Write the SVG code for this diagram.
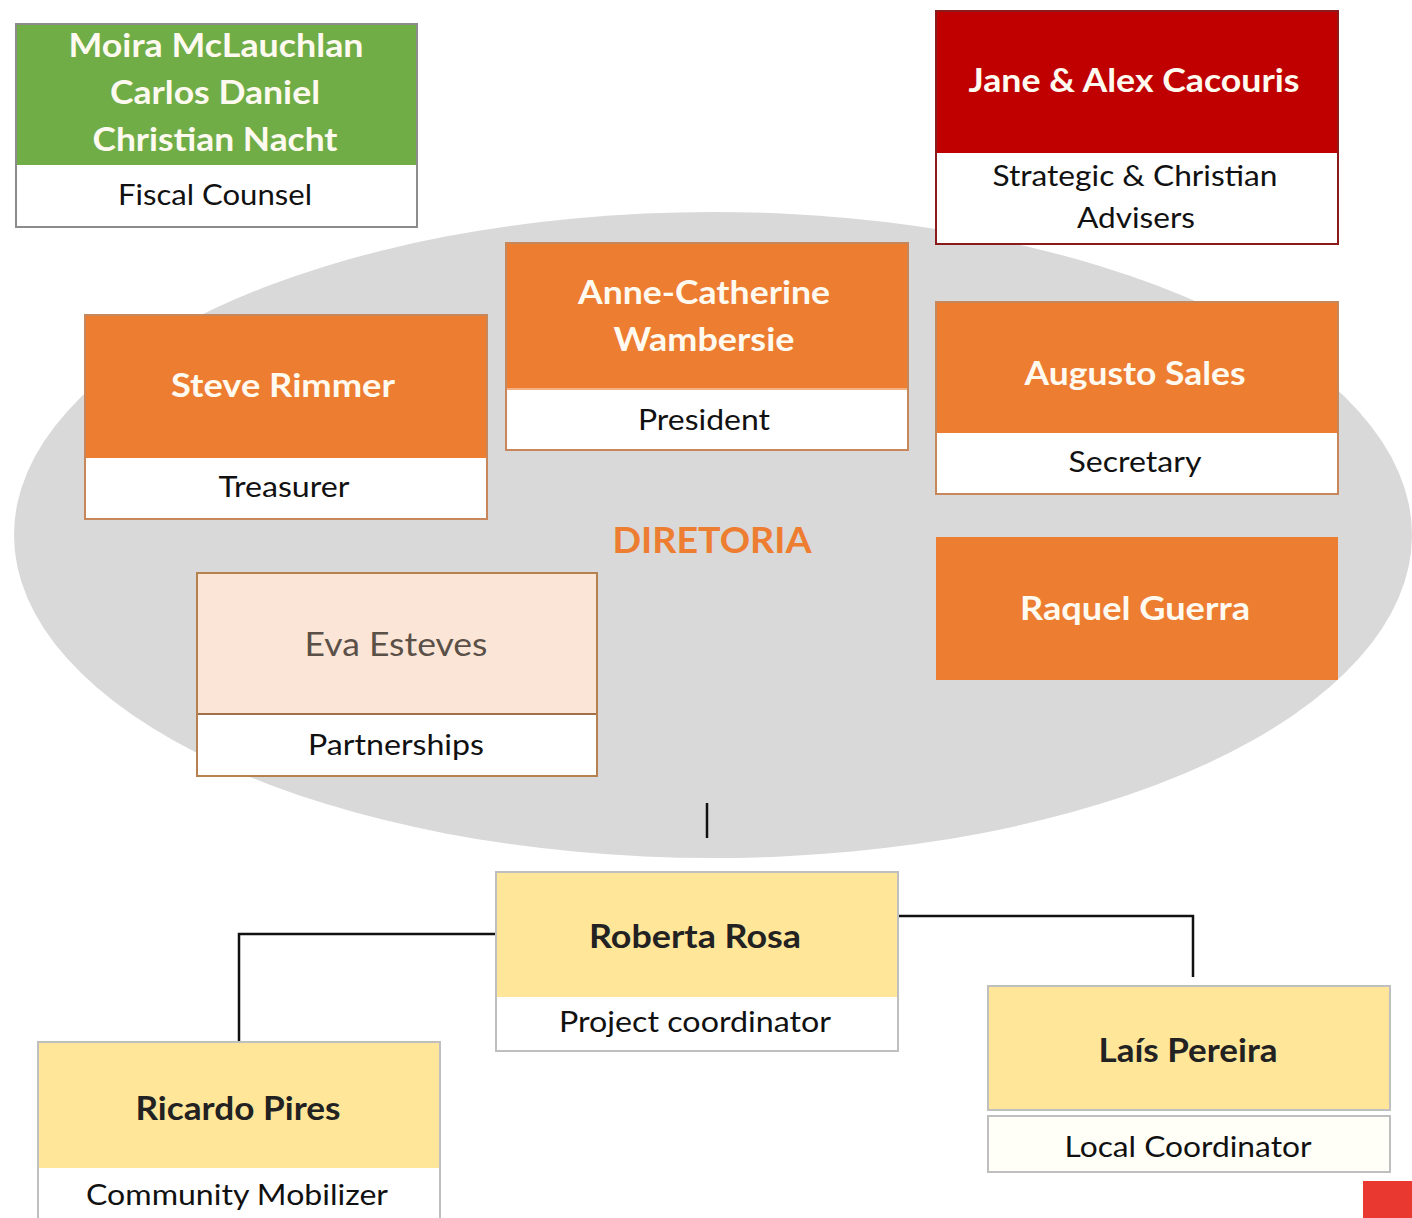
<svg xmlns="http://www.w3.org/2000/svg" width="1412" height="1218" viewBox="0 0 1412 1218">
<style>
text{font-family:Lato,"Open Sans","Liberation Sans",sans-serif;text-anchor:middle}
.nm{fill:#fffaf0;font-size:33px;font-weight:bold}
.nd{fill:#222;font-size:33px;font-weight:bold}
.tl{fill:#111;font-size:28px}
.hdr-o{fill:#ed7d31}
.hdr-y{fill:#ffe699}
.wh{fill:#ffffff}
.conn{fill:none;stroke:#111;stroke-width:2.5}
</style>
<rect width="1412" height="1218" fill="#ffffff"/>
<ellipse cx="713" cy="535" rx="699" ry="323" fill="#d9d9d9"/>
<text x="712" y="553" style="fill:#ed7d31;font-size:36px;font-weight:bold" textLength="199" lengthAdjust="spacingAndGlyphs">DIRETORIA</text>

<g id="connectors">
<line class="conn" x1="707" y1="803" x2="707" y2="838"/>
<polyline class="conn" points="496,934 239,934 239,1042"/>
<polyline class="conn" points="898,916 1193,916 1193,977"/>
</g>

<g id="fiscal">
<rect x="16" y="24" width="401" height="203" fill="#ffffff" stroke="#8c8c8c" stroke-width="2"/>
<rect x="17" y="25" width="399" height="140" fill="#70ad47"/>
<text class="nm" x="216" y="57" textLength="295" lengthAdjust="spacingAndGlyphs">Moira McLauchlan</text>
<text class="nm" x="215" y="104" textLength="210" lengthAdjust="spacingAndGlyphs">Carlos Daniel</text>
<text class="nm" x="215" y="151" textLength="245" lengthAdjust="spacingAndGlyphs">Christian Nacht</text>
<text class="tl" x="215" y="205" textLength="194" lengthAdjust="spacingAndGlyphs">Fiscal Counsel</text>
</g>

<g id="advisers">
<rect x="936" y="11" width="402" height="233" fill="#ffffff" stroke="#8b1a1a" stroke-width="2"/>
<rect x="937" y="12" width="400" height="141" fill="#c00000"/>
<text class="nm" x="1134" y="92" textLength="331" lengthAdjust="spacingAndGlyphs">Jane &amp; Alex Cacouris</text>
<text class="tl" x="1135" y="186" textLength="285" lengthAdjust="spacingAndGlyphs">Strategic &amp; Christian</text>
<text class="tl" x="1136" y="228" textLength="118" lengthAdjust="spacingAndGlyphs">Advisers</text>
</g>

<g id="president">
<rect x="506" y="243" width="402" height="207" fill="#ffffff" stroke="#c8875a" stroke-width="2"/>
<rect class="hdr-o" x="507" y="244" width="400" height="144"/>
<line x1="507" y1="389" x2="907" y2="389" stroke="#f4b183" stroke-width="2"/>
<text class="nm" x="704" y="304" textLength="252" lengthAdjust="spacingAndGlyphs">Anne-Catherine</text>
<text class="nm" x="704" y="351" textLength="181" lengthAdjust="spacingAndGlyphs">Wambersie</text>
<text class="tl" x="704" y="430" textLength="132" lengthAdjust="spacingAndGlyphs">President</text>
</g>

<g id="treasurer">
<rect x="85" y="315" width="402" height="204" fill="#ffffff" stroke="#c8875a" stroke-width="2"/>
<rect class="hdr-o" x="86" y="316" width="400" height="142"/>
<text class="nm" x="283" y="397" textLength="224" lengthAdjust="spacingAndGlyphs">Steve Rimmer</text>
<text class="tl" x="284" y="497" textLength="131" lengthAdjust="spacingAndGlyphs">Treasurer</text>
</g>

<g id="secretary">
<rect x="936" y="302" width="402" height="192" fill="#ffffff" stroke="#c8875a" stroke-width="2"/>
<rect class="hdr-o" x="937" y="303" width="400" height="130"/>
<text class="nm" x="1135" y="385" textLength="221" lengthAdjust="spacingAndGlyphs">Augusto Sales</text>
<text class="tl" x="1135" y="472" textLength="133" lengthAdjust="spacingAndGlyphs">Secretary</text>
</g>

<g id="raquel">
<rect class="hdr-o" x="936" y="537" width="402" height="143"/>
<text class="nm" x="1135" y="620" textLength="230" lengthAdjust="spacingAndGlyphs">Raquel Guerra</text>
</g>

<g id="partnerships">
<rect x="197" y="573" width="400" height="203" fill="#ffffff" stroke="#b7804f" stroke-width="2"/>
<rect x="198" y="574" width="398" height="140" fill="#fbe5d6"/>
<line x1="198" y1="714" x2="596" y2="714" stroke="#a0704a" stroke-width="2"/>
<text x="396" y="656" style="fill:#5a5048;font-size:33px" textLength="183" lengthAdjust="spacingAndGlyphs">Eva Esteves</text>
<text class="tl" x="396" y="755" textLength="176" lengthAdjust="spacingAndGlyphs">Partnerships</text>
</g>

<g id="roberta">
<rect x="496" y="872" width="402" height="179" fill="#ffffff" stroke="#bfbfbf" stroke-width="2"/>
<rect class="hdr-y" x="497" y="873" width="400" height="124"/>
<text class="nd" x="695" y="948" textLength="212" lengthAdjust="spacingAndGlyphs">Roberta Rosa</text>
<text class="tl" x="695" y="1032" textLength="272" lengthAdjust="spacingAndGlyphs">Project coordinator</text>
</g>

<g id="ricardo">
<rect x="38" y="1042" width="402" height="180" fill="#ffffff" stroke="#bfbfbf" stroke-width="2"/>
<rect class="hdr-y" x="39" y="1043" width="400" height="125"/>
<text class="nd" x="238" y="1120" textLength="205" lengthAdjust="spacingAndGlyphs">Ricardo Pires</text>
<text class="tl" x="237" y="1205" textLength="302" lengthAdjust="spacingAndGlyphs">Community Mobilizer</text>
</g>

<g id="lais">
<rect class="hdr-y" x="988" y="986" width="402" height="124" stroke="#bfbfbf" stroke-width="2"/>
<rect x="988" y="1116" width="402" height="56" fill="#fffff8" stroke="#bfbfbf" stroke-width="2"/>
<text class="nd" x="1188" y="1062" textLength="179" lengthAdjust="spacingAndGlyphs">Laís Pereira</text>
<text class="tl" x="1188" y="1157" textLength="247" lengthAdjust="spacingAndGlyphs">Local Coordinator</text>
</g>

<rect x="1363" y="1181" width="49" height="37" fill="#e8382f"/>
</svg>
